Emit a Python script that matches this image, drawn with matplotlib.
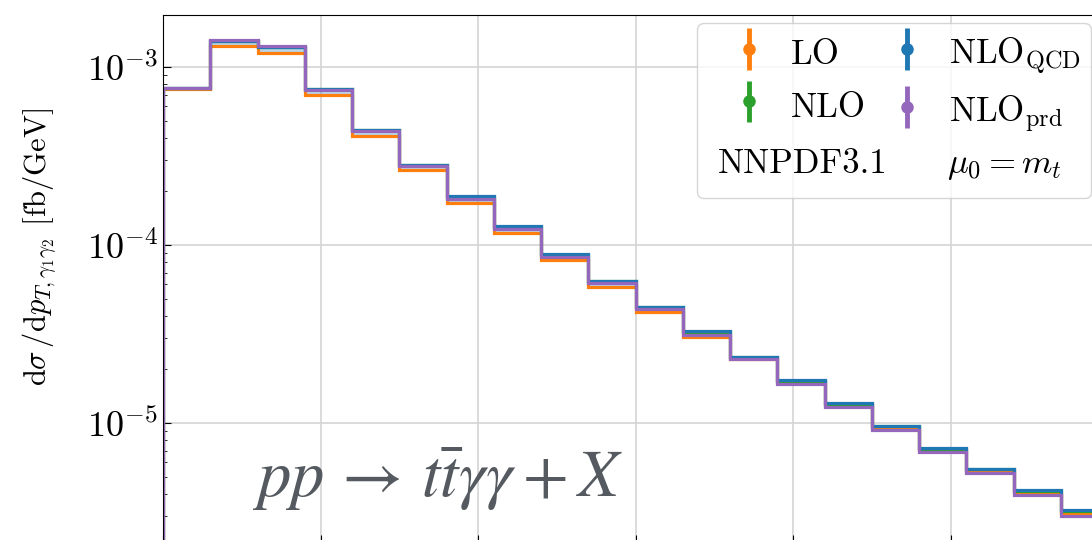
import numpy as np
import matplotlib
matplotlib.use("Agg")
from matplotlib import pyplot as plt
from matplotlib.lines import Line2D
from matplotlib.legend_handler import HandlerErrorbar

plt.rcParams["font.family"] = "serif"
plt.rcParams["font.serif"] = ["cmr10"]
plt.rcParams["mathtext.fontset"] = "cm"
plt.rcParams["axes.formatter.use_mathtext"] = True
plt.rcParams["axes.unicode_minus"] = False

# pT(gamma1 gamma2) bins, 15 GeV wide
edges = np.arange(0, 301, 15)

lo = [7.52e-4, 1.318e-3, 1.194e-3, 6.96e-4, 4.11e-4, 2.64e-4, 1.728e-4, 1.163e-4, 8.23e-5, 5.83e-5,
      4.22e-5, 3.03e-5, 2.29e-5, 1.70e-5, 1.257e-5, 9.37e-6, 7.08e-6, 5.40e-6, 4.06e-6, 3.13e-6]
nlo = [7.64e-4, 1.395e-3, 1.296e-3, 7.48e-4, 4.40e-4, 2.80e-4, 1.87e-4, 1.268e-4, 8.80e-5, 6.24e-5,
       4.46e-5, 3.26e-5, 2.34e-5, 1.73e-5, 1.28e-5, 9.58e-6, 7.18e-6, 5.49e-6, 4.16e-6, 3.21e-6]
nlo_qcd = [7.66e-4, 1.40e-3, 1.30e-3, 7.52e-4, 4.43e-4, 2.82e-4, 1.885e-4, 1.278e-4, 8.87e-5, 6.30e-5,
           4.50e-5, 3.29e-5, 2.36e-5, 1.744e-5, 1.290e-5, 9.66e-6, 7.24e-6, 5.54e-6, 4.20e-6, 3.24e-6]
nlo_prd = [7.62e-4, 1.418e-3, 1.312e-3, 7.43e-4, 4.37e-4, 2.79e-4, 1.813e-4, 1.225e-4, 8.56e-5, 6.09e-5,
           4.35e-5, 3.12e-5, 2.28e-5, 1.656e-5, 1.225e-5, 9.14e-6, 6.87e-6, 5.22e-6, 3.94e-6, 3.01e-6]

series = [("LO", lo, "C1"), ("NLO", nlo, "C2"),
          (r"NLO$_\mathrm{QCD}$", nlo_qcd, "C0"), (r"NLO$_\mathrm{prd}$", nlo_prd, "C4")]

W, H = 1092, 540
fig = plt.figure(figsize=(W / 100, H / 100), dpi=100)
# axes frame runs a little past the right and bottom edges of the canvas
ax = fig.add_axes([163 / W, -3 / H, 945 / W, 528 / H])
ax.set_yscale("log")
ax.set_xlim(0, 300)
ax.set_ylim(10 ** -5.6742, 10 ** -2.7079)
ax.set_xticks(np.arange(0, 301, 50))
ax.grid(True, which="major", color="#d4d4d4", lw=1.2)
ax.set_axisbelow(True)
ax.tick_params(which="both", direction="in", labelsize=26, top=False, right=False,
               labelbottom=False)
ax.tick_params(which="major", length=6)
ax.tick_params(which="minor", length=3)

stack = np.array([lo, nlo, nlo_qcd, nlo_prd])
ax.stairs(stack.max(axis=0), edges, baseline=stack.min(axis=0), fill=True,
          color="C0", alpha=0.3, lw=0)
for name, vals, col in series:
    ax.stairs(vals, edges, baseline=1e-9, color=col, lw=2.3)
    # proxy for the legend entry (drawn outside the x range)
    ax.errorbar([-100], [1e-4], yerr=[2e-5], fmt="o", color=col, ms=8, lw=3.5, label=name)

blank = Line2D([], [], color="none")
h, l = ax.get_legend_handles_labels()
# column-major order; third row is kept free for the PDF / scale notes.
# a tall handle box keeps the rows of both columns on the same baselines
leg = ax.legend([h[0], h[1], blank, h[2], h[3], blank],
                [l[0], l[1], " ", l[2], l[3], " "],
                ncol=2, fontsize=25, loc="upper left",
                bbox_to_anchor=(697 / W, 1 - 23 / H), bbox_transform=fig.transFigure,
                borderaxespad=0, handlelength=2.4, handleheight=1.3, handletextpad=0.0,
                columnspacing=0.0, labelspacing=0.43, borderpad=0.3,
                handler_map={type(h[0]): HandlerErrorbar(yerr_size=0.6)})
fig.text(718 / W, 1 - 173 / H, "NNPDF3.1", fontsize=25, ha="left", va="baseline")
fig.text(947 / W, 1 - 173 / H, r"$\mu_0 = m_t$", fontsize=25, ha="left", va="baseline")

fig.text(40 / W, 1 - 247 / H,
         r"$\mathrm{d}\sigma\,/\mathrm{d}p_{T,\gamma_1\gamma_2}$ [fb/GeV]",
         rotation=90, ha="center", va="center", fontsize=22)
fig.text(252 / W, 1 - 497 / H, r"$pp\,\rightarrow\,t\bar{t}\gamma\gamma+X$",
         math_fontfamily="stix", fontsize=48, color="#555a60", ha="left", va="baseline")

fig.savefig("out.png", dpi=100)
